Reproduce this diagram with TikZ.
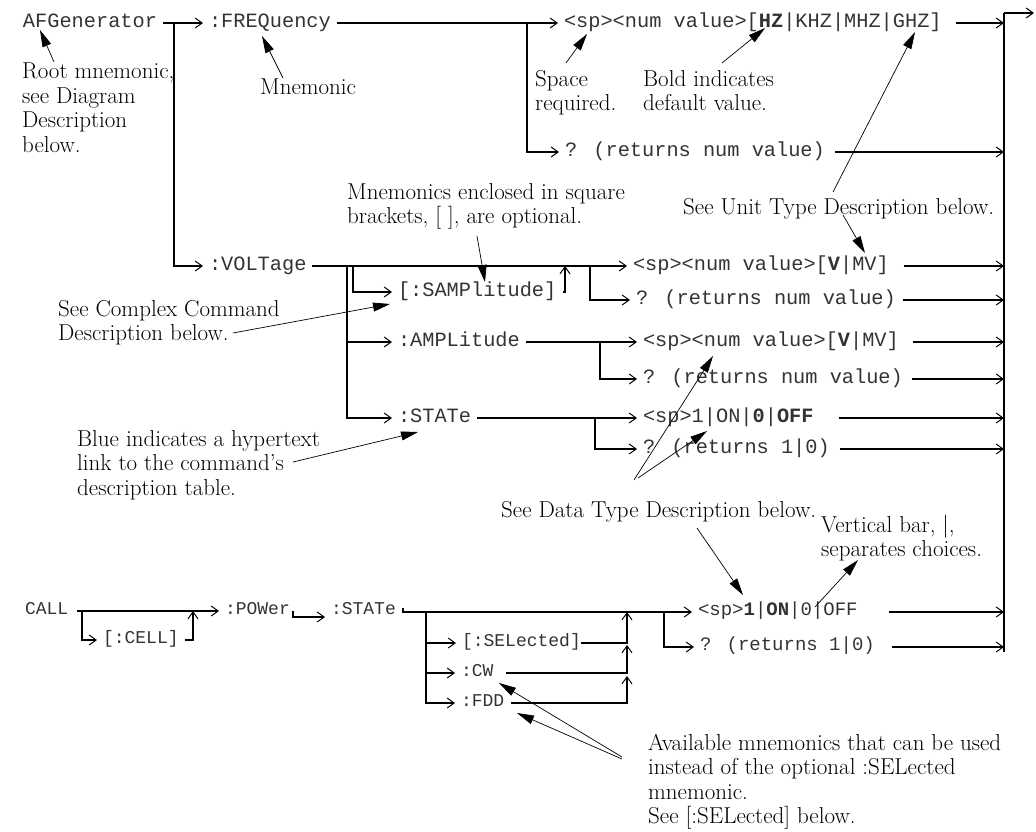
\documentclass[tikz,border=0pt]{standalone}
\usepackage{fontspec}
\newfontfamily\monofont{Liberation Mono}
\usetikzlibrary{arrows.meta}
\newcommand\fU{\monofont\fontsize{20.3}{24}\selectfont}
\newcommand\fL{\monofont\fontsize{18}{22}\selectfont}
\newcommand\fM{\monofont\fontsize{19}{22}\selectfont}
\newcommand\fS{\fontsize{23}{24.5}\selectfont}
\tikzset{
 mono/.style={font=\fU, text=black!80, inner sep=0pt, outer xsep=6pt, text height=14pt, text depth=6pt, anchor=west},
 monoL/.style={mono, font=\fL, text height=12.5pt, text depth=5.5pt},
 monoM/.style={mono, font=\fM, text height=13pt, text depth=5.5pt},
 note/.style={font=\fS, inner sep=0pt, anchor=north west, align=left},
 conn/.style={line width=1.1pt, -{Straight Barb[length=7pt,width=10pt,line width=1pt]}},
 plain/.style={line width=1.1pt},
 lead/.style={line width=0.7pt, -{Triangle[length=17pt,width=9pt]}},
}
\begin{document}
\begin{tikzpicture}[x=1pt,y=-1pt]
\useasboundingbox (0,0) rectangle (1036,831);
% right collecting bar
\coordinate (bartop) at (1004,13);
\coordinate (barbot) at (1004,652);
\coordinate (exit) at (1034,13);
\draw[plain] (barbot) -- (bartop);
\draw[conn] (bartop) -- (exit);

% ---------- upper tree ----------
\node[mono] (afg) at (17,23) {AFGenerator};
\node[mono] (freq) at (203,23) {:FREQuency};
\node[mono] (fset) at (558,23) {<sp><num value>[\textbf{HZ}|KHZ|MHZ|GHZ]};
\node[mono] (fq) at (559,152) {? (returns num value)};
\node[mono] (volt) at (203,266) {:VOLTage};
\node[mono] (samp) at (392,292) {[:SAMPlitude]};
\node[mono] (vset) at (627,266) {<sp><num value>[\textbf{V}|MV]};
\node[mono] (vq) at (630,300) {? (returns num value)};
\node[mono] (amp) at (392,342) {:AMPLitude};
\node[mono] (aset) at (637,342) {<sp><num value>[\textbf{V}|MV]};
\node[mono] (aq) at (637,379) {? (returns num value)};
\node[mono] (stat) at (392,418) {:STATe};
\node[mono] (sset) at (637,418) {<sp>1|ON|\textbf{0}|\textbf{OFF}};
\node[mono] (sq) at (637,449) {? (returns 1|0)};

\coordinate (ja) at (174,23);
\coordinate (jf) at (527,23);
\draw[conn] (afg.east) -- (freq.west);
\draw[conn] (freq.east) -- (fset.west);
\draw[conn] (jf) |- (fq.west);
\draw[conn] (ja) |- (volt.west);
\draw[conn] ([xshift=8pt]fset.east) -- (fset.east -| bartop);
\draw[conn] ([xshift=4pt]fq.east) -- (fq.east -| bartop);

\coordinate (jv1) at (347,266);
\coordinate (jv2) at (353,266);
\coordinate (jv3) at (565,266);
\coordinate (jv4) at (590,266);
\draw[conn] (volt.east) -- (vset.west);
\draw[conn] (jv1) |- (stat.west);
\draw[conn] (jv1 |- amp.west) -- (amp.west);
\draw[conn] (jv2) |- (samp.west);
\draw[conn] ([xshift=1pt]samp.east) -| (jv3);
\draw[conn] (jv4) |- (vq.west);
\draw[conn] ([xshift=9pt]vset.east) -- (vset.east -| bartop);
\draw[conn] ([xshift=1pt]vq.east) -- (vq.east -| bartop);

\coordinate (ja2) at (600,342);
\draw[conn] (amp.east) -- (aset.west);
\draw[conn] (ja2) |- (aq.west);
\draw[conn] ([xshift=8pt]aset.east) -- (aset.east -| bartop);
\draw[conn] ([xshift=3pt]aq.east) -- (aq.east -| bartop);

\coordinate (js) at (595,418);
\draw[conn] (stat.east) -- (sset.west);
\draw[conn] (js) |- (sq.west);
\draw[conn] ([xshift=19pt]sset.east) -- (sset.east -| bartop);
\draw[conn] ([xshift=4pt]sq.east) -- (sq.east -| bartop);

% ---------- lower tree ----------
\node[monoL] (call) at (19,611) {CALL};
\node[monoL] (cell) at (97,640) {[:CELL]};
\node[monoL] (pow) at (219,611) {:POWer};
\node[monoL] (stat2) at (325,611) {:STATe};
\node[monoL] (sel) at (456,643) {[:SELected]};
\node[monoL] (cw) at (455,673) {:CW};
\node[monoL] (fdd) at (455,703) {:FDD};
\node[monoM] (cset) at (692,612) {<sp>\textbf{1}|\textbf{ON}|0|OFF};
\node[monoM] (cq) at (694,647) {? (returns 1|0)};

\coordinate (jc1) at (82,611);
\coordinate (jc2) at (193,611);
\draw[conn] ([xshift=3pt]call.east) -- (pow.west);
\draw[conn] (jc1) |- (cell.west);
\draw[conn] (cell.east) -| (jc2);
\coordinate (jp) at (293,611);
\draw[conn] (jp) |- ([yshift=-6pt]stat2.west);

\coordinate (js0) at (403,608);
\coordinate (jb) at (426,612);
\coordinate (jr1) at (627,612);
\coordinate (jr2) at (627,645);
\coordinate (jr3) at (627,676);
\coordinate (jq) at (664,612);
\draw[conn] (js0) |- (cset.west);
\draw[conn] (jb) |- (fdd.west);
\draw[conn] (jb |- sel.west) -- (sel.west);
\draw[conn] (jb |- cw.west) -- (cw.west);
\draw[conn] ([xshift=-6pt]sel.east) -| (jr1);
\draw[conn] ([xshift=7pt]cw.east) -| (jr2);
\draw[conn] ([xshift=1pt]fdd.east) -| (jr3);
\draw[conn] (jq) |- (cq.west);
\draw[conn] ([xshift=25pt]cset.east) -- (cset.east -| bartop);
\draw[conn] ([xshift=11pt]cq.east) -- (cq.east -| bartop);

% ---------- notes ----------
\node[note] (root) at (22,63) {Root mnemonic,\\see Diagram\\Description\\below.};
\node[note] (mnem) at (260,79) {Mnemonic};
\node[note] (space) at (535,70) {Space\\required.};
\node[note] (bold) at (643,70) {Bold indicates\\default value.};
\node[note] (mne2) at (347,183) {Mnemonics enclosed in square\\brackets, [ ], are optional.};
\node[note] (unit) at (683,198) {See Unit Type Description below.};
\node[note] (complex) at (58,300) {See Complex Command\\Description below.};
\node[note] (blue) at (77,430) {Blue indicates a hypertext\\link to the command’s\\description table.};
\node[note] (data) at (501,501) {See Data Type Description below.};
\node[note] (vbar) at (821,515) {Vertical bar, |,\\separates choices.};
\node[note] (avail) at (648,734) {Available mnemonics that can be used\\instead of the optional :SELected\\mnemonic.};
\node[note] (seesel) at (648,806) {See [:SELected] below.};

% ---------- leaders ----------
\coordinate (t1) at (54,62);   \coordinate (h1) at (40,30);
\coordinate (t2) at (283,78);  \coordinate (h2) at (262,36);
\coordinate (t3) at (566,63);  \coordinate (h3) at (587,34);
\coordinate (t4) at (722,63);  \coordinate (h4) at (765,28);
\coordinate (t5) at (833,192); \coordinate (h5) at (915,32);
\coordinate (t6) at (843,215); \coordinate (h6) at (865,253);
\coordinate (t7) at (477,236); \coordinate (h7) at (485,282);
\coordinate (t8) at (233,333); \coordinate (h8) at (390,304);
\coordinate (t9) at (293,462); \coordinate (h9) at (418,432);
\coordinate (t10) at (634,480); \coordinate (h10) at (713,356);
\coordinate (t11) at (638,478); \coordinate (h11) at (707,431);
\coordinate (t12) at (697,528); \coordinate (h12) at (743,595);
\coordinate (t13) at (815,607); \coordinate (h13) at (858,560);
\coordinate (t14) at (622,757); \coordinate (h14) at (499,683);
\coordinate (t15) at (622,759); \coordinate (h15) at (517,713);
\foreach \i in {1,...,15} {\draw[lead] (t\i) -- (h\i);}
\end{tikzpicture}
\end{document}
